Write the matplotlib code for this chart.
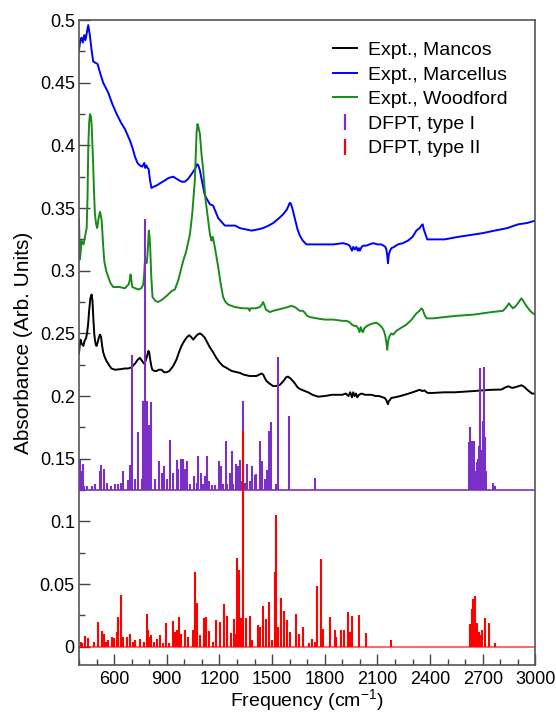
import matplotlib
matplotlib.use("Agg")
import matplotlib.pyplot as plt
from matplotlib.ticker import MultipleLocator
from matplotlib.lines import Line2D

plt.rcParams['font.family'] = ['Liberation Sans', 'DejaVu Sans']
plt.rcParams['mathtext.default'] = 'regular'

# ---------------- data ----------------
blue_f = [400,408,415,422,430,437,445,453,462,472,481,493,506,520,538,567,590,615,640,662,690,705,719,733,747,760,772,777,784,791,797,805,813,825,842,865,889,910,937,960,984,1003,1020,1041,1060,1073,1080,1089,1100,1117,1146,1164,1193,1231,1260,1290,1316,1350,1383,1420,1449,1480,1506,1540,1563,1585,1600,1605,1615,1629,1645,1658,1675,1696,1740,1790,1850,1904,1930,1942,1955,1962,1971,1980,1988,1995,2000,2010,2020,2037,2055,2075,2100,2122,2135,2145,2151,2156,2160,2165,2172,2180,2195,2217,2245,2274,2300,2322,2340,2350,2358,2364,2369,2384,2420,2483,2560,2654,2700,2768,2840,2901,2950,3000]
blue_v = [0.476,0.484,0.486,0.482,0.488,0.484,0.490,0.496,0.488,0.476,0.467,0.466,0.465,0.458,0.450,0.442,0.433,0.425,0.418,0.413,0.404,0.398,0.391,0.386,0.384,0.383,0.386,0.382,0.384,0.382,0.381,0.372,0.366,0.367,0.368,0.370,0.372,0.374,0.375,0.373,0.371,0.371,0.373,0.377,0.381,0.385,0.384,0.380,0.372,0.360,0.353,0.352,0.342,0.336,0.336,0.336,0.334,0.333,0.332,0.333,0.334,0.336,0.338,0.342,0.345,0.349,0.354,0.354,0.350,0.342,0.333,0.328,0.324,0.321,0.321,0.321,0.321,0.322,0.321,0.320,0.316,0.319,0.317,0.319,0.316,0.318,0.316,0.319,0.320,0.320,0.321,0.322,0.321,0.321,0.320,0.319,0.317,0.312,0.306,0.313,0.316,0.318,0.319,0.321,0.322,0.324,0.327,0.332,0.334,0.336,0.337,0.333,0.331,0.325,0.325,0.325,0.327,0.329,0.330,0.332,0.334,0.337,0.338,0.340]

green_f = [400,406,415,426,436,444,449,453,458,463,468,472,477,481,486,491,498,504,512,520,526,530,537,544,555,567,580,595,630,662,675,683,690,694,699,704,720,738,755,766,771,776,780,785,790,795,798,802,806,812,819,835,851,875,908,930,946,965,994,1010,1032,1045,1055,1060,1066,1070,1075,1080,1089,1098,1108,1120,1136,1146,1155,1160,1164,1175,1193,1207,1221,1235,1250,1288,1335,1365,1372,1378,1405,1430,1442,1449,1455,1465,1487,1506,1535,1563,1590,1610,1630,1658,1677,1700,1715,1753,1800,1850,1900,1923,1940,1955,1968,1980,1990,1998,2005,2012,2018,2025,2040,2056,2075,2094,2110,2125,2137,2145,2152,2156,2160,2165,2170,2180,2190,2208,2230,2265,2295,2322,2340,2350,2358,2365,2375,2382,2420,2480,2550,2650,2750,2815,2835,2849,2860,2872,2890,2910,2920,2930,2948,2970,2985,3000]
green_v = [0.341,0.309,0.324,0.321,0.328,0.334,0.360,0.398,0.418,0.425,0.423,0.417,0.400,0.385,0.362,0.345,0.337,0.334,0.342,0.347,0.343,0.339,0.322,0.308,0.300,0.295,0.290,0.287,0.287,0.286,0.288,0.289,0.293,0.297,0.292,0.287,0.286,0.285,0.286,0.289,0.296,0.308,0.309,0.306,0.312,0.325,0.332,0.328,0.318,0.295,0.279,0.276,0.275,0.277,0.281,0.284,0.285,0.292,0.308,0.315,0.329,0.345,0.363,0.372,0.395,0.410,0.417,0.415,0.409,0.393,0.380,0.358,0.340,0.329,0.324,0.327,0.326,0.318,0.303,0.290,0.279,0.275,0.273,0.271,0.270,0.270,0.268,0.270,0.270,0.271,0.273,0.275,0.273,0.269,0.267,0.268,0.269,0.270,0.271,0.272,0.271,0.268,0.268,0.264,0.263,0.262,0.261,0.261,0.260,0.260,0.259,0.257,0.256,0.256,0.254,0.251,0.255,0.252,0.251,0.254,0.256,0.257,0.258,0.2585,0.257,0.255,0.252,0.248,0.242,0.237,0.243,0.246,0.248,0.250,0.249,0.252,0.254,0.257,0.261,0.266,0.268,0.270,0.269,0.266,0.263,0.262,0.262,0.263,0.264,0.265,0.267,0.268,0.271,0.274,0.272,0.270,0.272,0.276,0.278,0.276,0.272,0.268,0.266,0.265]

black_f = [400,405,409,415,420,425,432,440,446,452,458,465,472,477,482,487,491,496,500,507,514,520,526,532,538,547,557,570,585,605,640,660,681,700,720,735,747,760,770,776,782,790,796,800,806,812,818,830,842,855,870,885,899,915,937,955,970,984,1000,1015,1028,1040,1051,1062,1075,1089,1100,1117,1130,1145,1164,1180,1200,1220,1240,1270,1300,1316,1340,1373,1400,1411,1425,1440,1450,1460,1468,1485,1506,1525,1545,1565,1580,1591,1605,1625,1645,1658,1686,1705,1730,1762,1800,1840,1876,1900,1920,1935,1945,1955,1962,1970,1978,1985,1995,2010,2030,2050,2066,2090,2110,2130,2141,2150,2155,2160,2165,2172,2179,2200,2230,2255,2290,2320,2341,2355,2369,2380,2388,2420,2480,2540,2600,2650,2692,2750,2806,2830,2847,2860,2870,2895,2920,2935,2957,2980,3000]
black_v = [0.234,0.241,0.245,0.242,0.241,0.240,0.244,0.246,0.250,0.257,0.268,0.278,0.281,0.276,0.262,0.250,0.245,0.241,0.240,0.243,0.247,0.249,0.247,0.240,0.235,0.231,0.228,0.225,0.222,0.221,0.2215,0.222,0.222,0.223,0.226,0.229,0.2305,0.228,0.226,0.227,0.229,0.233,0.236,0.235,0.229,0.224,0.221,0.220,0.220,0.221,0.221,0.219,0.219,0.220,0.224,0.229,0.235,0.240,0.244,0.247,0.2485,0.247,0.245,0.247,0.249,0.250,0.249,0.2465,0.243,0.239,0.235,0.231,0.227,0.224,0.2225,0.220,0.219,0.2185,0.217,0.216,0.216,0.216,0.217,0.218,0.217,0.214,0.212,0.210,0.208,0.208,0.209,0.212,0.215,0.2155,0.214,0.211,0.207,0.2057,0.204,0.203,0.201,0.1995,0.200,0.201,0.201,0.201,0.202,0.200,0.203,0.199,0.203,0.200,0.202,0.199,0.201,0.202,0.201,0.201,0.201,0.200,0.200,0.199,0.1985,0.197,0.195,0.1935,0.196,0.197,0.1985,0.199,0.200,0.201,0.2025,0.204,0.205,0.204,0.2045,0.203,0.2025,0.2025,0.203,0.203,0.2035,0.204,0.2045,0.205,0.2052,0.207,0.2078,0.2068,0.2065,0.2075,0.2086,0.2075,0.2046,0.202,0.202]

type1_base = 0.125
type1_f = [407,412,421,431,446,472,491,520,525,543,562,585,604,623,638,652,677,690,700,719,738,757,766,775,785,798,810,832,855,874,885,900,916,936,956,965,980,994,1003,1014,1032,1056,1070,1079,1094,1107,1117,1132,1141,1155,1174,1199,1207,1220,1235,1245,1259,1269,1278,1293,1306,1316,1325,1337,1344,1358,1372,1386,1400,1410,1434,1444,1459,1471,1481,1494,1520,1533,1594,1743,2622,2629,2632,2638,2644,2650,2657,2663,2668,2675,2680,2686,2695,2700,2705,2711,2716,2758,2771]
type1_v = [0.149,0.140,0.146,0.128,0.128,0.128,0.130,0.140,0.145,0.142,0.131,0.128,0.130,0.130,0.131,0.140,0.133,0.145,0.233,0.134,0.171,0.134,0.196,0.341,0.196,0.177,0.195,0.134,0.148,0.139,0.144,0.134,0.165,0.139,0.149,0.142,0.150,0.150,0.142,0.148,0.130,0.136,0.131,0.152,0.139,0.130,0.136,0.152,0.132,0.129,0.129,0.148,0.144,0.130,0.164,0.130,0.139,0.156,0.130,0.146,0.144,0.149,0.132,0.196,0.131,0.146,0.132,0.144,0.137,0.138,0.164,0.148,0.134,0.141,0.172,0.179,0.130,0.231,0.184,0.135,0.163,0.175,0.150,0.164,0.140,0.164,0.135,0.140,0.147,0.150,0.160,0.222,0.157,0.180,0.223,0.167,0.140,0.131,0.128]

type2_base = 0.0
type2_f = [410,420,434,453,486,508,529,544,556,567,586,599,614,624,637,652,671,690,705,719,747,772,785,794,805,813,825,842,861,880,895,915,933,946,956,971,984,1003,1022,1047,1063,1073,1089,1111,1123,1140,1164,1183,1202,1225,1245,1268,1281,1290,1303,1312,1322,1335,1350,1372,1388,1420,1434,1449,1465,1483,1500,1515,1521,1534,1553,1566,1585,1600,1638,1653,1675,1709,1729,1743,1758,1777,1790,1832,1857,1866,1891,1910,1933,1942,1957,1993,2033,2175,2630,2637,2644,2657,2666,2676,2687,2697,2710,2734,2772]
type2_v = [0.004,0.003,0.0086,0.0066,0.0035,0.020,0.0128,0.0098,0.004,0.0053,0.008,0.0072,0.012,0.024,0.0413,0.008,0.008,0.0098,0.004,0.005,0.006,0.004,0.0261,0.013,0.008,0.009,0.004,0.006,0.009,0.003,0.019,0.003,0.0205,0.012,0.013,0.0237,0.010,0.013,0.008,0.0133,0.060,0.0346,0.009,0.0227,0.024,0.0128,0.004,0.0213,0.020,0.0341,0.0245,0.011,0.0221,0.010,0.0706,0.0612,0.0226,0.172,0.0226,0.0245,0.005,0.0173,0.016,0.0325,0.0218,0.036,0.005,0.060,0.1053,0.016,0.0385,0.0285,0.021,0.012,0.0264,0.010,0.0155,0.003,0.006,0.004,0.0485,0.0698,0.0138,0.024,0.0133,0.008,0.0133,0.013,0.0275,0.012,0.0248,0.0253,0.0107,0.0053,0.018,0.030,0.0378,0.0405,0.0187,0.012,0.009,0.013,0.0226,0.0187,0.003]

labels = ["Expt., Mancos", "Expt., Marcellus", "Expt., Woodford", "DFPT, type I", "DFPT, type II"]
x_ticks = [600, 900, 1200, 1500, 1800, 2100, 2400, 2700, 3000]

c_black, c_blue, c_green = '#000000', '#0000ff', '#1a8a1a'
c_purple, c_red = '#7a2fc6', '#ff0000'

# ---------------- figure ----------------
fig = plt.figure(figsize=(5.56, 7.16), dpi=100)
ax = fig.add_axes([0.142, 0.0712, 0.821, 0.9008])

ax.plot(black_f, black_v, color=c_black, lw=1.4, zorder=2)
ax.plot(blue_f, blue_v, color=c_blue, lw=1.4, zorder=2)
ax.plot(green_f, green_v, color=c_green, lw=1.4, zorder=2)

ax.axhline(type1_base, color=c_purple, lw=1.4, alpha=0.85, zorder=3)
ax.axhline(type2_base, color=c_red, lw=1.4, alpha=0.6, zorder=3)
ax.vlines(type1_f, type1_base, type1_v, color=c_purple, lw=1.5, zorder=4)
ax.vlines(type2_f, type2_base, type2_v, color=c_red, lw=1.5, zorder=5)

ax.set_xlim(400, 3000)
ax.set_ylim(-0.0146, 0.5)
ax.set_xticks(x_ticks)
ax.xaxis.set_minor_locator(MultipleLocator(100))
ax.yaxis.set_major_locator(MultipleLocator(0.05))
ax.yaxis.set_minor_locator(MultipleLocator(0.025))
ax.yaxis.set_major_formatter(plt.FuncFormatter(lambda v, p: ('%g' % round(v, 3)) if v > -0.001 else ''))

for side in ['left', 'right', 'top', 'bottom']:
    ax.spines[side].set_color('#555555')
    ax.spines[side].set_linewidth(1.2)
ax.tick_params(axis='both', which='major', direction='in', length=8, width=1.0,
               color='#444444', labelsize=13)
ax.tick_params(axis='y', which='major', pad=3)
ax.tick_params(axis='x', which='major', pad=4)
ax.tick_params(axis='both', which='minor', direction='in', length=4.5, width=1.0,
               color='#444444')
ax.tick_params(top=False, right=False, which='both')

ax.set_xlabel('Frequency (cm$^{-1}$)', fontsize=14, labelpad=0)
ax.set_ylabel('Absorbance (Arb. Units)', fontsize=15, labelpad=5)

handles = [
    Line2D([], [], color=c_black, lw=1.4),
    Line2D([], [], color=c_blue, lw=1.4),
    Line2D([], [], color=c_green, lw=1.4),
    Line2D([], [], color=c_purple, ls='none', marker='|', markersize=11, markeredgewidth=1.6),
    Line2D([], [], color=c_red, ls='none', marker='|', markersize=11, markeredgewidth=1.6),
]
ax.legend(handles, labels, loc='upper left', bbox_to_anchor=(0.556, 0.967), frameon=False,
          fontsize=14, handlelength=1.24, handletextpad=0.57, labelspacing=0.36,
          borderpad=0, borderaxespad=0)

fig.savefig('out.png', dpi=100)
